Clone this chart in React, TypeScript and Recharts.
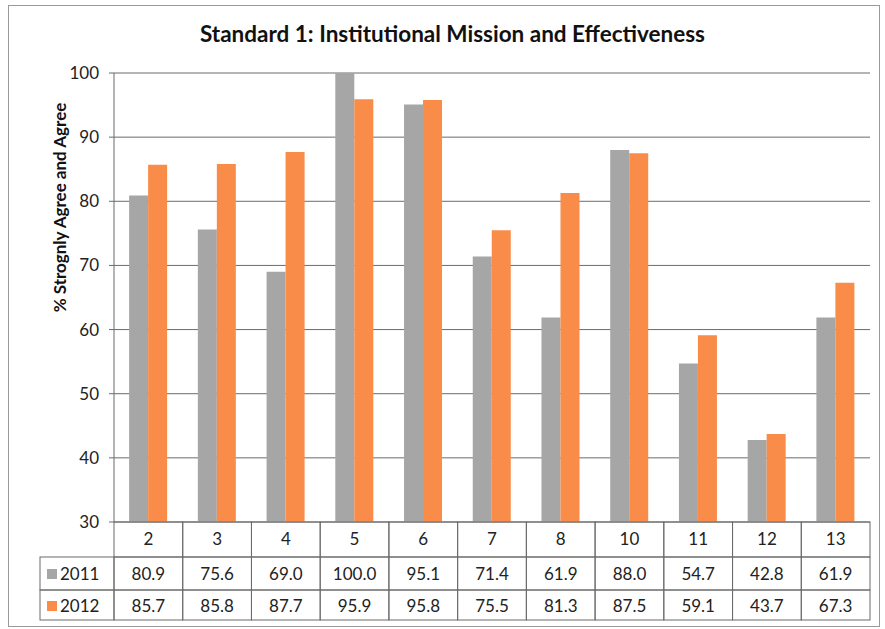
import { BarChart, Bar, XAxis, YAxis, CartesianGrid, Label } from "recharts";

const questions = ["2", "3", "4", "5", "6", "7", "8", "10", "11", "12", "13"];
const pct2011 = [80.9, 75.6, 69.0, 100.0, 95.1, 71.4, 61.9, 88.0, 54.7, 42.8, 61.9];
const pct2012 = [85.7, 85.8, 87.7, 95.9, 95.8, 75.5, 81.3, 87.5, 59.1, 43.7, 67.3];
const yTicks = [30, 40, 50, 60, 70, 80, 90, 100];

const data = questions.map((q, i) => ({ q, y2011: pct2011[i], y2012: pct2012[i] }));

const GRAY = "#a6a6a6";
const ORANGE = "#f98c48";
const LINE = "#6b6b6b";
const FONT = "Lato, 'Open Sans', sans-serif";

const PLOT_LEFT = 114;
const PLOT_RIGHT = 870;
const BAND = (PLOT_RIGHT - PLOT_LEFT) / questions.length;
const ROW1 = 35;
const ROW2 = 33;
const ROW3 = 30;

// x axis tick draws one column of the data table
function TableTick(props: any) {
  const { x, y, payload } = props;
  const i = questions.indexOf(payload.value);
  const left = x - BAND / 2;
  const top = y - 8;
  const cells = (
    <g>
      <rect x={left} y={top} width={BAND} height={ROW1} fill="none" stroke={LINE} strokeWidth={1} />
      <rect x={left} y={top + ROW1} width={BAND} height={ROW2} fill="none" stroke={LINE} strokeWidth={1} />
      <rect x={left} y={top + ROW1 + ROW2} width={BAND} height={ROW3} fill="none" stroke={LINE} strokeWidth={1} />
      <text x={x} y={top + 23} textAnchor="middle" fontSize={17} fill="#222" fontFamily={FONT}>
        {payload.value}
      </text>
      <text x={x} y={top + ROW1 + 23} textAnchor="middle" fontSize={17} fill="#222" fontFamily={FONT}>
        {pct2011[i].toFixed(1)}
      </text>
      <text x={x} y={top + ROW1 + ROW2 + 22} textAnchor="middle" fontSize={17} fill="#222" fontFamily={FONT}>
        {pct2012[i].toFixed(1)}
      </text>
    </g>
  );
  if (i !== 0) return cells;
  const lx = left - 74;
  return (
    <g>
      {cells}
      <rect x={lx} y={top + ROW1} width={74} height={ROW2} fill="none" stroke={LINE} strokeWidth={1} />
      <rect x={lx} y={top + ROW1 + ROW2} width={74} height={ROW3} fill="none" stroke={LINE} strokeWidth={1} />
      <rect x={lx + 7} y={top + ROW1 + 12} width={10} height={10} fill={GRAY} />
      <rect x={lx + 7} y={top + ROW1 + ROW2 + 11} width={10} height={10} fill={ORANGE} />
      <text x={lx + 20} y={top + ROW1 + 23} fontSize={17} fill="#222" fontFamily={FONT}>2011</text>
      <text x={lx + 20} y={top + ROW1 + ROW2 + 22} fontSize={17} fill="#222" fontFamily={FONT}>2012</text>
    </g>
  );
}

export default function App() {
  return (
    <div style={{ position: "absolute", left: 0, top: 0, width: 885, height: 629, background: "#fff" }}>
      <div
        style={{
          position: "absolute",
          left: 8,
          top: 5,
          width: 870,
          height: 620,
          border: "1px solid #9a9a9a",
        }}
      />
      <div
        style={{
          position: "absolute",
          left: 0,
          top: 20,
          width: 905,
          textAlign: "center",
          fontFamily: FONT,
          fontWeight: 700,
          fontSize: 22.5,
          color: "#111",
        }}
      >
        Standard 1: Institutional Mission and Effectiveness
      </div>
      <div style={{ position: "absolute", left: 0, top: 0 }}>
        <BarChart
          width={885}
          height={629}
          data={data}
          margin={{ top: 73, right: 15, bottom: 9, left: 0 }}
          barGap={0}
          barCategoryGap="22%"
        >
          <CartesianGrid vertical={false} stroke={LINE} strokeWidth={1} />
          <XAxis
            dataKey="q"
            height={98}
            axisLine={false}
            tickLine={false}
            interval={0}
            tick={<TableTick />}
          />
          <YAxis
            width={114}
            domain={[30, 100]}
            ticks={yTicks}
            allowDataOverflow
            axisLine={{ stroke: LINE }}
            tickLine={{ stroke: LINE }}
            tickSize={5}
            tick={{ fontSize: 17, fill: "#222", fontFamily: FONT }}
            tickMargin={10}
          >
            <Label
              value="% Strognly Agree and Agree"
              angle={-90}
              position="insideLeft"
              offset={60}
              style={{ fontSize: 17, fontWeight: 700, fill: "#111", fontFamily: FONT, textAnchor: "middle" }}
              dy={-90}
            />
          </YAxis>
          <Bar dataKey="y2011" fill={GRAY} isAnimationActive={false} />
          <Bar dataKey="y2012" fill={ORANGE} isAnimationActive={false} />
        </BarChart>
      </div>
    </div>
  );
}
